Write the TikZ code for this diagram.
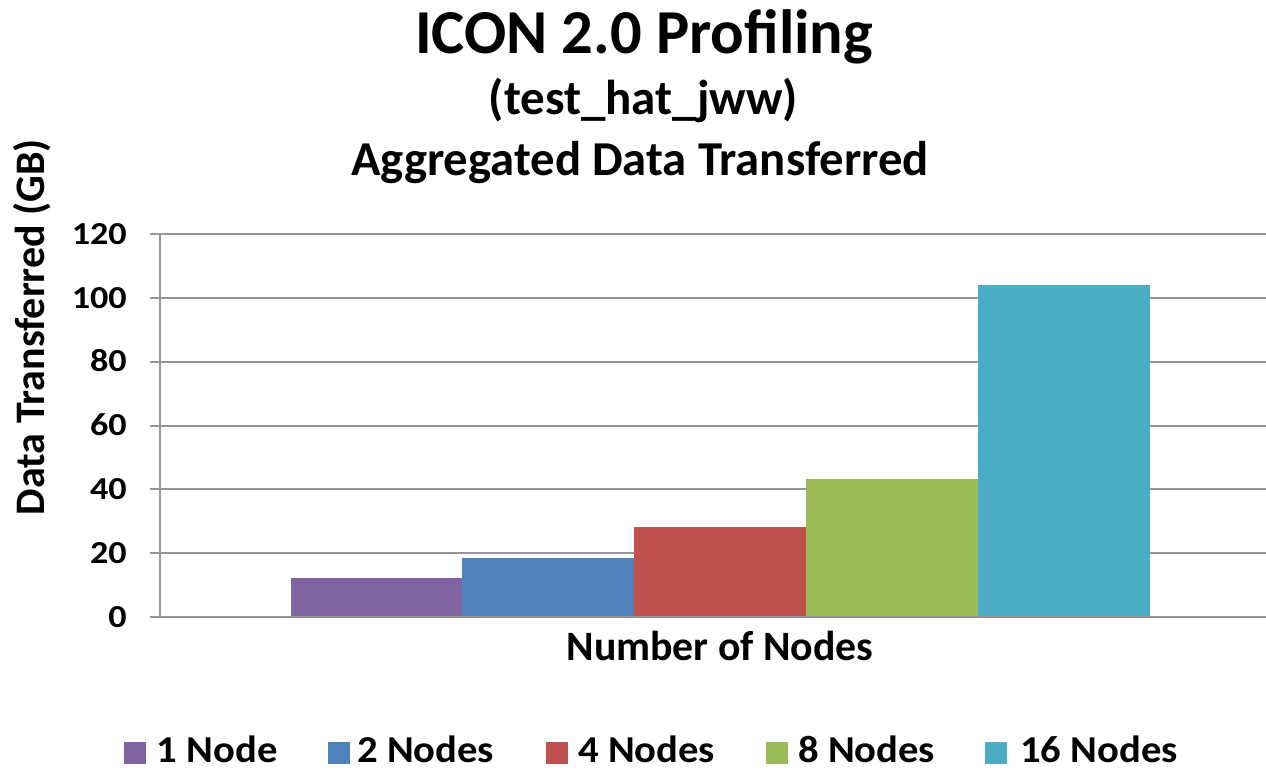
\documentclass[tikz,border=0pt]{standalone}
\usepackage{fontspec}
\setmainfont{Carlito}
\definecolor{cpurple}{HTML}{8064A2}
\definecolor{cblue}{HTML}{4F81BD}
\definecolor{cred}{HTML}{C0504D}
\definecolor{cgreen}{HTML}{9BBB59}
\definecolor{ccyan}{HTML}{4BACC6}
\definecolor{gridgray}{RGB}{150,150,150}
\tikzset{
  txt/.style={inner sep=0pt, font=\bfseries},
  grid line/.style={draw=gridgray, line width=2pt},
  legbox/.style={minimum width=23pt, minimum height=23pt, inner sep=0pt, draw=white, line width=0.6pt},
}
\begin{document}
\begin{tikzpicture}[x=1pt,y=-1pt]
\useasboundingbox[fill=white] (0,0) rectangle (1266,768);
% titles
\node[txt, anchor=base, font=\bfseries\fontsize{62.5}{62.5}\selectfont] (title) at (644,53) {ICON 2.0 Profiling};
\node[txt, anchor=base, font=\bfseries\fontsize{49}{49}\selectfont] (sub) at (643.5,114) {(test\_hat\_jww)};
\node[txt, anchor=base, font=\bfseries\fontsize{48.7}{48.7}\selectfont] (agg) at (640,175) {Aggregated Data Transferred};
% grid
\foreach \v in {20,40,...,120} {
  \draw[grid line] (150,{617-3.19*\v}) -- (1266,{617-3.19*\v});
}
\foreach \v in {0,20,...,120} {
  \node[txt, anchor=base east, font=\bfseries\fontsize{32}{32}\selectfont] (t\v) at (127,{617-3.19*\v+10}) {\scalebox{1.13}[1]{\v}};
}
% bars
\fill[cpurple] (290.7,617) rectangle (462,{617-3.19*12.1});
\fill[cblue] (462,617) rectangle (633.6,{617-3.19*18.5});
\fill[cred] (633.6,617) rectangle (805.7,{617-3.19*28.1});
\fill[cgreen] (805.7,617) rectangle (978,{617-3.19*43.4});
\fill[ccyan] (978,617) rectangle (1150.3,{617-3.19*104});
% axes
\draw[grid line] (150,617) -- (1266,617);
\draw[grid line] (160,{617-3.19*120}) -- (160,617);
% axis titles
\node[txt, anchor=base, font=\bfseries\fontsize{41.8}{41.8}\selectfont] (xlab) at (720,660) {Number of Nodes};
\node[txt, anchor=base, rotate=90, font=\bfseries\fontsize{42}{42}\selectfont] (ylab) at (44,327) {Data Transferred (GB)};
% legend
\tikzset{legtxt/.style={txt, anchor=base west, font=\bfseries\fontsize{38}{38}\selectfont}}
\node[legbox, fill=cpurple, anchor=north west] (l1) at (122.7,741) {};
\node[legtxt] (lt1) at (156.7,762.5) {\scalebox{1.07}[1]{1 Node}};
\node[legbox, fill=cblue, anchor=north west] (l2) at (326.7,741) {};
\node[legtxt] (lt2) at (357,762.5) {\scalebox{1.07}[1]{2 Nodes}};
\node[legbox, fill=cred, anchor=north west] (l3) at (545,741) {};
\node[legtxt] (lt3) at (578,762.5) {\scalebox{1.07}[1]{4 Nodes}};
\node[legbox, fill=cgreen, anchor=north west] (l4) at (765,741) {};
\node[legtxt] (lt4) at (798,762.5) {\scalebox{1.07}[1]{8 Nodes}};
\node[legbox, fill=ccyan, anchor=north west] (l5) at (984,741) {};
\node[legtxt] (lt5) at (1020,762.5) {\scalebox{1.07}[1]{16 Nodes}};
\end{tikzpicture}
\end{document}
